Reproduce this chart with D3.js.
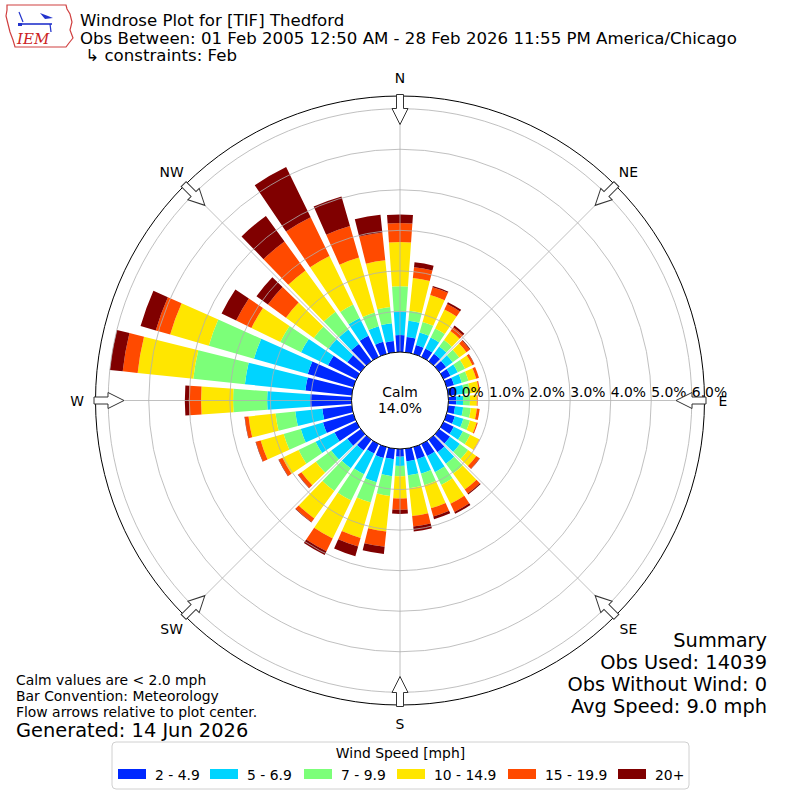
<!DOCTYPE html>
<html>
<head>
<meta charset="utf-8">
<script src="https://cdn.jsdelivr.net/npm/d3@7"></script>
<style>
  body { margin: 0; background: #fff; }
  text { font-family: "DejaVu Sans", sans-serif; fill: #000; }
</style>
</head>
<body>
<svg id="chart" width="800" height="800"></svg>
<script>
// direction bins (degrees, meteorological: wind blowing FROM)
const directions = [0, 10, 20, 30, 40, 50, 60, 70, 80, 90, 100, 110, 120, 130, 140, 150, 160, 170,
                    180, 190, 200, 210, 220, 230, 240, 250, 260, 270, 280, 290, 300, 310, 320, 330, 340, 350];

const speedLabels = ["2 - 4.9", "5 - 6.9", "7 - 9.9", "10 - 14.9", "15 - 19.9", "20+"];
const speedColors = ["#0028ff", "#00d4ff", "#7cff79", "#ffe600", "#ff4a00", "#800000"];

// percent of observations per direction, one array per speed bin
const speed2to5 = [0.42, 0.38, 0.23, 0.23, 0.23, 0.21, 0.19, 0.19, 0.19, 0.19, 0.17, 0.21, 0.28, 0.33, 0.38, 0.33, 0.31, 0.31,
                   0.19, 0.26, 0.28, 0.26, 0.33, 0.41, 0.60, 0.78, 0.73, 1.02, 1.15, 1.17, 0.78, 0.41, 0.53, 0.58, 0.31, 0.28];
const speed5to7 = [0.58, 0.40, 0.32, 0.30, 0.22, 0.20, 0.20, 0.20, 0.20, 0.17, 0.20, 0.22, 0.25, 0.30, 0.35, 0.44, 0.37, 0.35,
                   0.23, 0.42, 0.62, 0.57, 0.54, 0.49, 0.52, 0.57, 0.67, 1.06, 1.50, 1.38, 0.74, 0.57, 0.44, 0.49, 0.40, 0.44];
const speed7to10 = [0.62, 0.25, 0.27, 0.25, 0.20, 0.20, 0.20, 0.17, 0.15, 0.17, 0.19, 0.17, 0.20, 0.25, 0.30, 0.35, 0.30, 0.32,
                    0.25, 0.49, 0.52, 0.72, 0.69, 0.47, 0.47, 0.44, 0.49, 0.84, 1.28, 1.16, 0.57, 0.45, 0.54, 0.37, 0.35, 0.40];
const speed10to15 = [1.09, 0.81, 0.69, 0.52, 0.27, 0.22, 0.20, 0.20, 0.22, 0.17, 0.15, 0.17, 0.25, 0.25, 0.49, 0.52, 0.59, 0.69,
                     0.55, 0.88, 0.91, 1.04, 0.84, 0.44, 0.44, 0.59, 0.67, 0.79, 1.38, 0.99, 0.79, 0.85, 1.26, 1.33, 1.41, 1.16];
const speed15to20 = [0.47, 0.27, 0.20, 0.15, 0.12, 0.10, 0.05, 0.07, 0.03, 0.02, 0.07, 0.03, 0.01, 0.10, 0.12, 0.22, 0.21, 0.26,
                     0.28, 0.38, 0.22, 0.35, 0.11, 0.10, 0.10, 0.12, 0.09, 0.30, 0.37, 0.37, 0.42, 0.55, 0.88, 1.06, 0.81, 0.69];
const speed20plus = [0.21, 0.12, 0.03, 0.05, 0.05, 0.02, 0.01, 0.00, 0.00, 0.00, 0.00, 0.00, 0.00, 0.01, 0.03, 0.05, 0.07, 0.12,
                     0.10, 0.18, 0.25, 0.10, 0.01, 0.01, 0.01, 0.01, 0.01, 0.10, 0.32, 0.39, 0.40, 0.35, 0.78, 1.38, 0.76, 0.44];

const radialTicks = [0, 1, 2, 3, 4, 5, 6];
const compassNames = ["N", "NE", "E", "SE", "S", "SW", "W", "NW"];
const compassAngles = [0, 45, 90, 135, 180, 225, 270, 315];

const titleLines = ["Windrose Plot for [TIF] Thedford",
                    "Obs Between: 01 Feb 2005 12:50 AM - 28 Feb 2026 11:55 PM America/Chicago",
                    " \u21b3 constraints: Feb"];
const notesLeft = ["Calm values are < 2.0 mph", "Bar Convention: Meteorology", "Flow arrows relative to plot center."];
const generatedText = "Generated: 14 Jun 2026";
const summaryLines = ["Summary", "Obs Used: 14039", "Obs Without Wind: 0", "Avg Speed: 9.0 mph"];
const calmPercent = 14.0;

const svg = d3.select("#chart");
const cx = 400, cy = 400.5;
const outerR = 304.5;
const barWidth = 8; // degrees

// radial scale starts at the edge of the calm circle
const rScale = d3.scaleLinear().domain([0, 6]).range([48.5, 291.8]);
const rad = deg => deg * Math.PI / 180;

// Build rows for stacking
const speedSeries = [speed2to5, speed5to7, speed7to10, speed10to15, speed15to20, speed20plus];
const rows = directions.map(function(dir, i) {
    var row = { dir: dir };
    speedLabels.forEach(function(k, j) { row[k] = speedSeries[j][i]; });
    return row;
});
const stacked = d3.stack().keys(speedLabels)(rows);

const plot = svg.append("g").attr("transform", `translate(${cx},${cy})`);

// outer frame
plot.append("circle")
    .attr("r", outerR)
    .attr("fill", "none")
    .attr("stroke", "#000")
    .attr("stroke-width", 1);

// bars
const arc = d3.arc();
plot.selectAll("g.layer")
    .data(stacked)
    .enter().append("g")
    .attr("class", "layer")
    .attr("fill", function(d, i) { return speedColors[i]; })
    .selectAll("path")
    .data(function(d) { return d; })
    .enter().append("path")
    .attr("d", function(d) {
        return arc({
            innerRadius: rScale(d[0]),
            outerRadius: rScale(d[1]),
            startAngle: rad(d.data.dir - barWidth / 2),
            endAngle: rad(d.data.dir + barWidth / 2)
        });
    });

// grid rings and spokes (drawn over the bars)
plot.selectAll("circle.ring")
    .data(radialTicks.slice(1))
    .enter().append("circle")
    .attr("class", "ring")
    .attr("r", function(d) { return rScale(d); })
    .attr("fill", "none")
    .attr("stroke", "#b0b0b0")
    .attr("stroke-width", 0.8);

plot.selectAll("line.spoke")
    .data(compassAngles)
    .enter().append("line")
    .attr("class", "spoke")
    .attr("x1", 0).attr("y1", 0)
    .attr("x2", function(d) { return outerR * Math.sin(rad(d)); })
    .attr("y2", function(d) { return -outerR * Math.cos(rad(d)); })
    .attr("stroke", "#b0b0b0")
    .attr("stroke-width", 0.8);

// calm circle
plot.append("circle")
    .attr("r", rScale(0))
    .attr("fill", "#fff")
    .attr("stroke", "#000")
    .attr("stroke-width", 1);

plot.append("text")
    .attr("x", 0).attr("y", -3.5)
    .attr("text-anchor", "middle")
    .style("font-size", "13.9px")
    .text("Calm");
plot.append("text")
    .attr("x", 0).attr("y", 12.5)
    .attr("text-anchor", "middle")
    .style("font-size", "13.9px")
    .text(calmPercent.toFixed(1) + "%");

// radial tick labels
plot.selectAll("text.rlabel")
    .data(radialTicks)
    .enter().append("text")
    .attr("class", "rlabel")
    .attr("x", function(d) { return rScale(d); })
    .attr("y", -3.5)
    .style("font-size", "13.9px")
    .text(function(d) { return d.toFixed(1) + "%"; });

// flow arrows
const arrowPath = "M-3.5,-306 L3.5,-306 L3.5,-292 L8,-292 L0,-276 L-8,-292 L-3.5,-292 Z";
plot.selectAll("path.arrow")
    .data(compassAngles)
    .enter().append("path")
    .attr("class", "arrow")
    .attr("d", arrowPath)
    .attr("transform", function(d) { return `rotate(${d})`; })
    .attr("fill", "#fff")
    .attr("stroke", "#333")
    .attr("stroke-width", 1);

// compass labels
plot.selectAll("text.compass")
    .data(compassNames)
    .enter().append("text")
    .attr("class", "compass")
    .attr("x", function(d, i) { return 323 * Math.sin(rad(compassAngles[i])); })
    .attr("y", function(d, i) { return -323 * Math.cos(rad(compassAngles[i])); })
    .attr("text-anchor", "middle")
    .attr("dominant-baseline", "central")
    .style("font-size", "13.9px")
    .text(function(d) { return d; });

// title
svg.selectAll("text.title")
    .data(titleLines)
    .enter().append("text")
    .attr("class", "title")
    .attr("x", 80)
    .attr("y", function(d, i) { return 26 + i * 17.5; })
    .attr("xml:space", "preserve")
    .style("white-space", "pre")
    .style("font-size", "16.6px")
    .text(function(d) { return d; });

// notes bottom-left
svg.selectAll("text.note")
    .data(notesLeft)
    .enter().append("text")
    .attr("class", "note")
    .attr("x", 16)
    .attr("y", function(d, i) { return 685 + i * 16; })
    .style("font-size", "13.9px")
    .text(function(d) { return d; });
svg.append("text")
    .attr("x", 16).attr("y", 737)
    .style("font-size", "19.4px")
    .text(generatedText);

// summary bottom-right
svg.selectAll("text.summary")
    .data(summaryLines)
    .enter().append("text")
    .attr("class", "summary")
    .attr("x", 767)
    .attr("y", function(d, i) { return 647 + i * 22; })
    .attr("text-anchor", "end")
    .style("font-size", "19.4px")
    .text(function(d) { return d; });

// legend
const legend = svg.append("g").attr("transform", "translate(112,742)");
legend.append("rect")
    .attr("width", 577).attr("height", 47)
    .attr("rx", 4)
    .attr("fill", "#fff")
    .attr("stroke", "#d0d0d0");
legend.append("text")
    .attr("x", 288.5).attr("y", 16)
    .attr("text-anchor", "middle")
    .style("font-size", "13.9px")
    .text("Wind Speed [mph]");
const legendX = [6, 98, 192, 285, 396, 506];
const item = legend.selectAll("g.item")
    .data(speedLabels)
    .enter().append("g")
    .attr("class", "item")
    .attr("transform", function(d, i) { return `translate(${legendX[i]},27)`; });
item.append("rect")
    .attr("width", 28).attr("height", 10)
    .attr("fill", function(d, i) { return speedColors[i]; });
item.append("text")
    .attr("x", 37).attr("y", 10.5)
    .style("font-size", "13.9px")
    .text(function(d) { return d; });

// IEM logo (simplified)
const logo = svg.append("g").attr("class", "logo");
logo.append("path")
    .attr("d", "M7,5 L66,5 L67,9 L70,14 L72,22 L70,30 L73,38 L69,43 L66,47 L15,47 L13,40 L10,32 L8,24 L6,16 L7,10 Z")
    .attr("fill", "#fff")
    .attr("stroke", "#d04040")
    .attr("stroke-width", 1.2);
logo.append("line").attr("x1", 20).attr("y1", 24).attr("x2", 52).attr("y2", 24)
    .attr("stroke", "#2233cc").attr("stroke-width", 1.6);
logo.append("line").attr("x1", 19).attr("y1", 12).attr("x2", 23).attr("y2", 22)
    .attr("stroke", "#2233cc").attr("stroke-width", 1.2);
logo.append("path").attr("d", "M40,13 L48,16 L53,18 L45,19 Z").attr("fill", "#2233cc");
logo.append("path").attr("d", "M18,23 L22,23 L22,26 L18,26 Z").attr("fill", "#2233cc");
logo.append("line").attr("x1", 50).attr("y1", 24).attr("x2", 51).attr("y2", 32)
    .attr("stroke", "#2233cc").attr("stroke-width", 1.2);
logo.append("text")
    .attr("x", 17).attr("y", 44)
    .style("font-family", "'DejaVu Serif', serif")
    .style("font-style", "italic")
    .style("font-size", "15px")
    .style("fill", "#cc2222")
    .text("IEM");
</script>
</body>
</html>
